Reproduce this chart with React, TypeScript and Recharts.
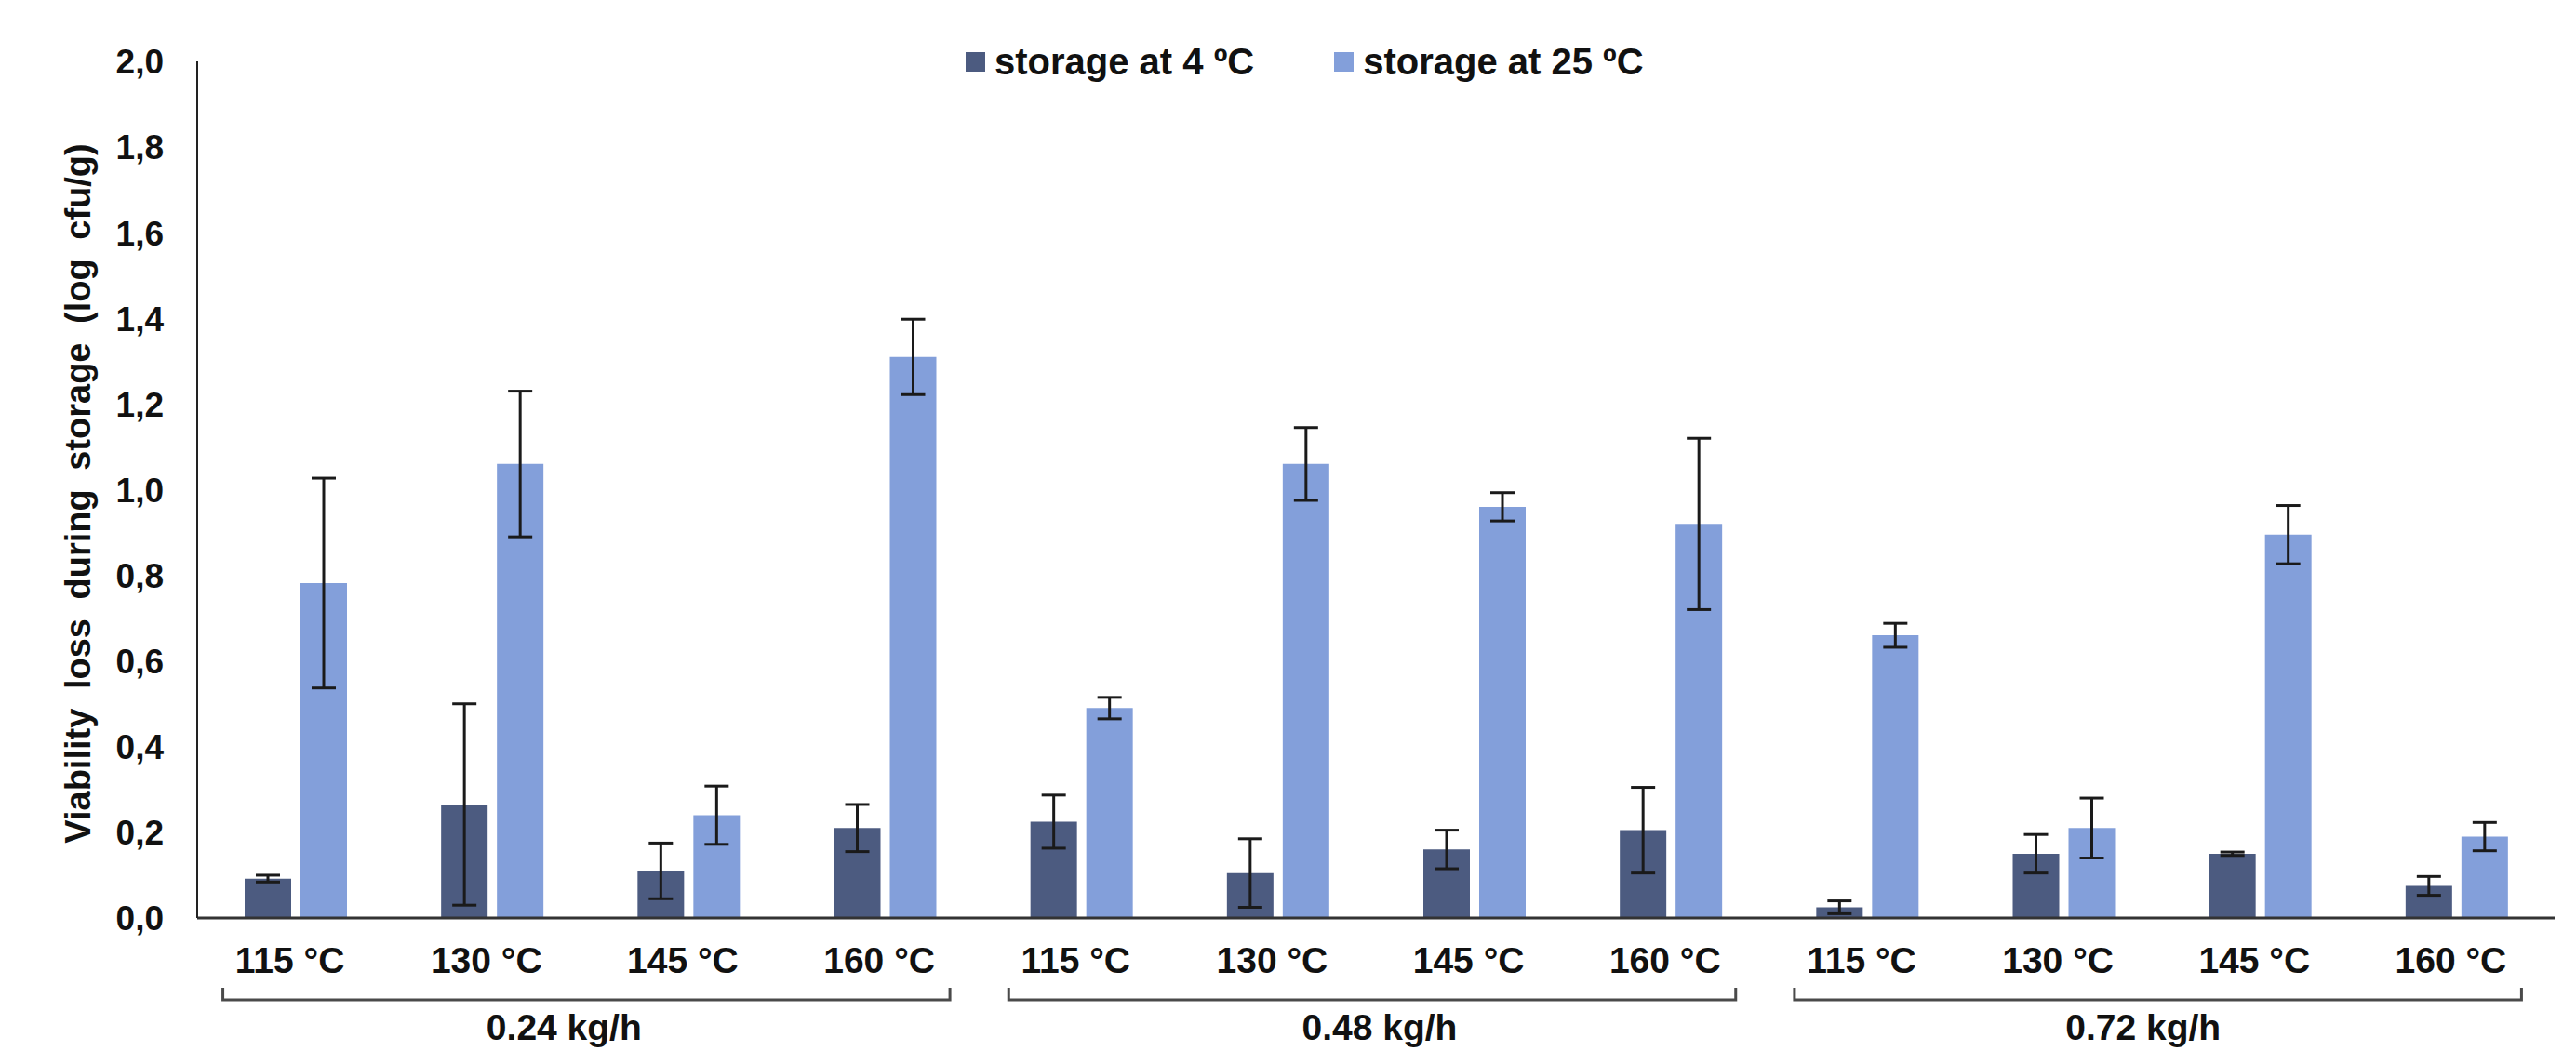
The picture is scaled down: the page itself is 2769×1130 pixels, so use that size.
import React from 'react';
import { BarChart, Bar, XAxis, YAxis, ErrorBar, Legend, Label } from 'recharts';

const tempLabels = ['115 °C', '130 °C', '145 °C', '160 °C', '115 °C', '130 °C', '145 °C', '160 °C', '115 °C', '130 °C', '145 °C', '160 °C'];
const groupLabels = ['0.24 kg/h', '0.48 kg/h', '0.72 kg/h'];
const storage4 = [0.092, 0.265, 0.11, 0.21, 0.225, 0.105, 0.16, 0.205, 0.025, 0.15, 0.15, 0.075];
const storage4Err = [0.008, 0.235, 0.065, 0.055, 0.062, 0.08, 0.045, 0.1, 0.015, 0.045, 0.004, 0.022];
const storage25 = [0.782, 1.06, 0.24, 1.31, 0.49, 1.06, 0.96, 0.92, 0.66, 0.21, 0.895, 0.19];
const storage25Err = [0.245, 0.17, 0.068, 0.088, 0.025, 0.085, 0.033, 0.2, 0.028, 0.07, 0.068, 0.033];
const yTicks = [0, 0.2, 0.4, 0.6, 0.8, 1.0, 1.2, 1.4, 1.6, 1.8, 2.0];

const data = tempLabels.map((t, i) => ({
  idx: String(i),
  s4: storage4[i],
  s4e: storage4Err[i],
  s25: storage25[i],
  s25e: storage25Err[i],
}));

const W = 2769;
const H = 1130;
const PLOT_LEFT = 212;
const PLOT_RIGHT = 2746;
const PLOT_TOP = 66;
const PLOT_BOTTOM = 987;
const BAND = (PLOT_RIGHT - PLOT_LEFT) / tempLabels.length;
const FONT = 'Liberation Sans, Arial, sans-serif';
const DARK = '#4c5b80';
const LIGHT = '#839fda';
const GROUP_LABEL_SHIFT = [-24, 8, -16];

const XTick = (props: any) => {
  const { x, y, index } = props;
  const axisY = y;
  const els: any[] = [];
  els.push(
    <text key="t" x={x - 6} y={axisY + 45} dy="0.36em" textAnchor="middle" fontFamily={FONT} fontWeight="bold" fontSize={39} fill="#111">
      {tempLabels[index]}
    </text>
  );
  if (index % 4 === 0) {
    const g = index / 4;
    const left = x - 78;
    const right = x + 3 * BAND + 70;
    const by = axisY + 88;
    els.push(
      <path key="b" d={`M${left},${by - 13} L${left},${by} L${right},${by} L${right},${by - 13}`} fill="none" stroke="#4a4a4a" strokeWidth={3} />
    );
    els.push(
      <text key="g" x={(left + right) / 2 + GROUP_LABEL_SHIFT[g]} y={axisY + 117} dy="0.36em" textAnchor="middle" fontFamily={FONT} fontWeight="bold" fontSize={39} fill="#111">
        {groupLabels[g]}
      </text>
    );
  }
  return <g>{els}</g>;
};

const YTick = (props: any) => {
  const { x, y, payload } = props;
  return (
    <text x={x} y={y} dy="0.36em" textAnchor="end" fontFamily={FONT} fontWeight="bold" fontSize={37} fill="#111">
      {Number(payload.value).toFixed(1).replace('.', ',')}
    </text>
  );
};

const legendItems = [
  { label: 'storage at 4 ºC', color: DARK },
  { label: 'storage at 25 ºC', color: LIGHT },
];

const LegendContent = () => (
  <div style={{ display: 'flex', alignItems: 'center', fontFamily: FONT, fontWeight: 'bold', fontSize: 40, color: '#111', whiteSpace: 'nowrap' }}>
    {legendItems.map((it, i) => (
      <div key={i} style={{ display: 'flex', alignItems: 'center', marginRight: i === 0 ? 86 : 0 }}>
        <span style={{ display: 'inline-block', width: 21, height: 21, background: it.color, marginRight: 10 }} />
        <span>{it.label}</span>
      </div>
    ))}
  </div>
);

const YLabel = (props: any) => {
  const vb = props.viewBox || {};
  const cx = 83;
  const cy = (vb.y ?? PLOT_TOP) + (vb.height ?? PLOT_BOTTOM - PLOT_TOP) / 2 + 4;
  return (
    <text x={cx} y={cy} dy="0.36em" transform={`rotate(-90, ${cx}, ${cy})`} textAnchor="middle" fontFamily={FONT} fontWeight="bold" fontSize={38} wordSpacing={10} fill="#111">
      Viability loss during storage (log cfu/g)
    </text>
  );
};

export default function App() {
  return (
    <div style={{ position: 'absolute', left: 0, top: 0, width: W, height: H, background: '#fff' }}>
      <BarChart
        width={W}
        height={H}
        data={data}
        margin={{ top: PLOT_TOP, right: W - PLOT_RIGHT, bottom: 0, left: 62 }}
        barSize={50}
        barGap={10}
      >
        <XAxis
          dataKey="idx"
          height={H - PLOT_BOTTOM}
          tickLine={false}
          tickSize={0}
          tickMargin={0}
          interval={0}
          tick={<XTick />}
          axisLine={{ stroke: '#333', strokeWidth: 3 }}
        />
        <YAxis
          width={PLOT_LEFT - 62}
          domain={[0, 2]}
          ticks={yTicks}
          tickLine={false}
          tickSize={0}
          tickMargin={36}
          tick={<YTick />}
          axisLine={{ stroke: '#222', strokeWidth: 2 }}
        >
          <Label content={<YLabel />} />
        </YAxis>
        <Legend
          layout="vertical"
          align="center"
          verticalAlign="middle"
          content={<LegendContent />}
          wrapperStyle={{ position: 'absolute', top: 44, left: 1038, width: 'auto' }}
        />
        <Bar dataKey="s4" fill={DARK} isAnimationActive={false}>
          <ErrorBar dataKey="s4e" width={13} stroke="#1a1a1a" strokeWidth={3} isAnimationActive={false} />
        </Bar>
        <Bar dataKey="s25" fill={LIGHT} isAnimationActive={false}>
          <ErrorBar dataKey="s25e" width={13} stroke="#1a1a1a" strokeWidth={3} isAnimationActive={false} />
        </Bar>
      </BarChart>
    </div>
  );
}
